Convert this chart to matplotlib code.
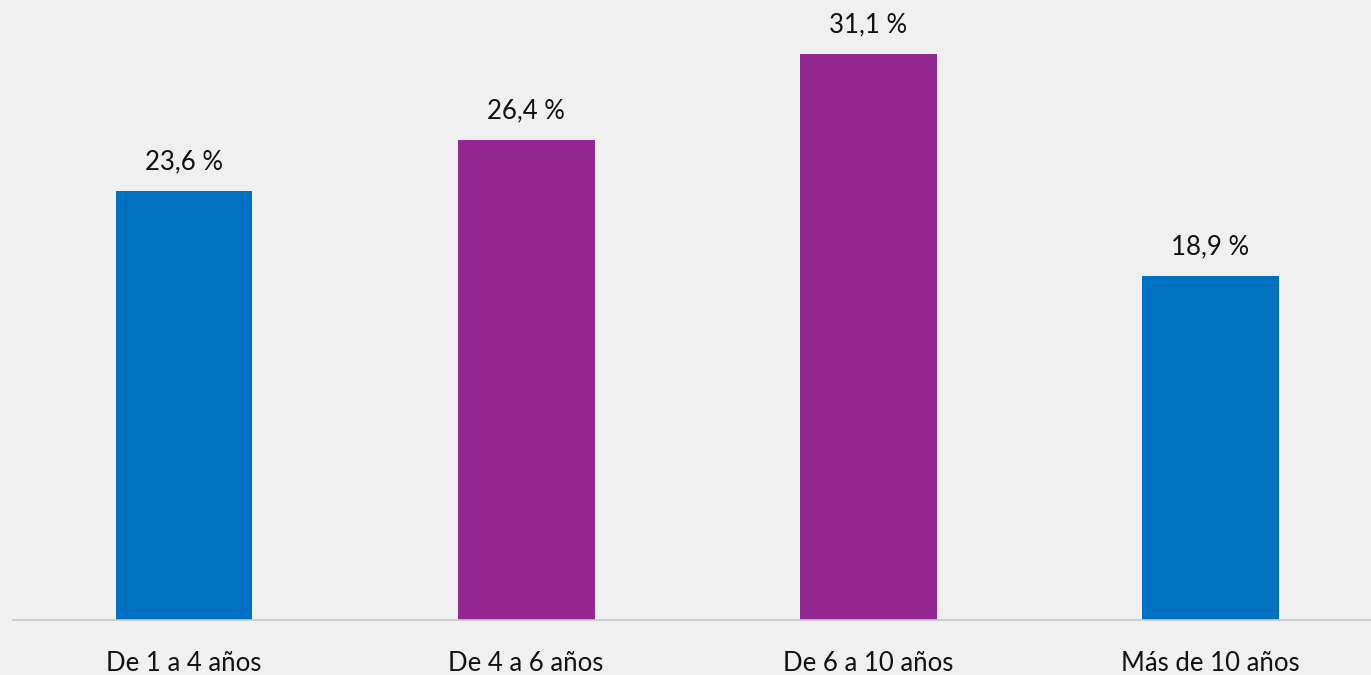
import matplotlib.pyplot as plt

categorias = ['De 1 a 4 años', 'De 4 a 6 años', 'De 6 a 10 años', 'Más de 10 años']
valores = [23.6, 26.4, 31.1, 18.9]
colores = ['#0070c0', '#92278f', '#92278f', '#0070c0']

plt.rcParams['font.family'] = ['Lato', 'DejaVu Sans']

fig = plt.figure(figsize=(13.71, 6.75), dpi=100, facecolor='#f0f0f0')
ax = fig.add_axes([13 / 1371, 55 / 675, 1 - 13 / 1371, 620 / 675])
ax.set_facecolor('#f0f0f0')

x = range(len(categorias))
ax.bar(x, valores, width=0.4, color=colores)

for xi, v in zip(x, valores):
    etiqueta = f'{v:.1f} %'.replace('.', ',')
    ax.annotate(etiqueta, (xi, v), xytext=(0, 12), textcoords='offset points',
                ha='center', va='bottom', fontsize=18.5, color='#111111')

ax.set_xlim(-0.5, 3.47)
ax.set_ylim(0, 34.07)
ax.set_xticks(list(x))
ax.set_xticklabels(categorias, fontsize=18.5, color='#111111')
ax.tick_params(axis='x', length=0, pad=22)
ax.set_yticks([])
for s in ['top', 'right', 'left']:
    ax.spines[s].set_visible(False)
ax.spines['bottom'].set_color('#c8c8c8')
ax.spines['bottom'].set_linewidth(1.2)

fig.savefig('out.png', dpi=100, facecolor=fig.get_facecolor())
